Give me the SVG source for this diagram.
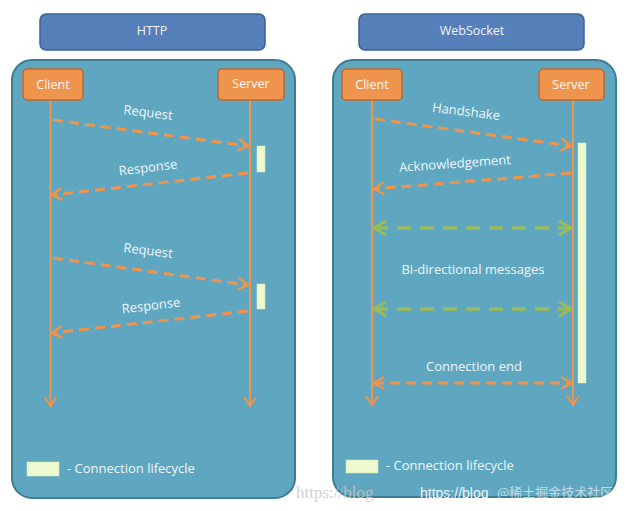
<svg xmlns="http://www.w3.org/2000/svg" width="628" height="511" viewBox="0 0 628 511">
<style>
.title{fill:#5580b9;stroke:#3c6196;stroke-width:1.5}
.panel{fill:#5fa7c1;stroke:#3d7c92;stroke-width:2}
.actor{fill:#ef944d;stroke:#b96a30;stroke-width:1.5}
.t{font-family:"Open Sans","Liberation Sans",sans-serif;font-size:12.5px;fill:#f4f8fb;text-anchor:middle}
.tt{font-family:"Open Sans","Liberation Sans",sans-serif;font-size:12.5px;fill:#f2f4fa;text-anchor:middle}
.lbl{font-family:"Open Sans","Liberation Sans",sans-serif;font-size:13px;fill:#eef5f8;text-anchor:middle}
.leg{font-family:"Open Sans","Liberation Sans",sans-serif;font-size:13px;fill:#eef5f8}
.life{stroke:#ef944d;stroke-width:2;fill:none}
.msg{stroke:#ef944d;stroke-width:3;stroke-dasharray:10 6;fill:none}
.bi{stroke:#9bbb59;stroke-width:3.5;stroke-dasharray:14 9;fill:none}
.bar{fill:#eef9cf;stroke:#d8ebb0;stroke-width:0.5}
</style>
<defs>
<marker id="ao" markerUnits="userSpaceOnUse" markerWidth="16" markerHeight="16" refX="12" refY="8" orient="auto-start-reverse"><path d="M2,2 L12,8 L2,14" fill="none" stroke="#ef944d" stroke-width="2.5"/></marker>
<marker id="al" markerUnits="userSpaceOnUse" markerWidth="16" markerHeight="16" refX="12" refY="8" orient="auto"><path d="M3,2 L12,8 L3,14" fill="none" stroke="#ef944d" stroke-width="2"/></marker>
<marker id="ag" markerUnits="userSpaceOnUse" markerWidth="18" markerHeight="18" refX="14" refY="9" orient="auto-start-reverse"><path d="M2,2 L14,9 L2,16" fill="none" stroke="#9bbb59" stroke-width="3"/></marker>
<linearGradient id="barg" x1="0" y1="0" x2="1" y2="0"><stop offset="0" stop-color="#fbfde8"/><stop offset="1" stop-color="#dff0b8"/></linearGradient>
</defs>

<g id="http-title"><rect class="title" x="40" y="14" width="225" height="36" rx="6"/><text class="tt" x="152" y="35">HTTP</text></g>
<g id="ws-title"><rect class="title" x="359" y="14" width="225" height="36" rx="6"/><text class="tt" x="472" y="35">WebSocket</text></g>

<g id="http-panel"><rect class="panel" x="12" y="60" width="283" height="438" rx="20"/></g>
<g id="ws-panel"><rect class="panel" x="333" y="60" width="283" height="437" rx="20"/></g>

<g id="connectors">
<line class="life" x1="50.5" y1="100" x2="50.5" y2="406" marker-end="url(#al)"/>
<line class="life" x1="250" y1="100" x2="250" y2="406" marker-end="url(#al)"/>
<line class="life" x1="372" y1="100" x2="372" y2="405" marker-end="url(#al)"/>
<line class="life" x1="573" y1="100" x2="573" y2="405" marker-end="url(#al)"/>
<line class="msg" x1="53" y1="120" x2="248" y2="146" marker-end="url(#ao)"/>
<line class="msg" x1="248" y1="173" x2="52" y2="195" marker-end="url(#ao)"/>
<line class="msg" x1="53" y1="258" x2="248" y2="285" marker-end="url(#ao)"/>
<line class="msg" x1="248" y1="311" x2="52" y2="333" marker-end="url(#ao)"/>
<line class="msg" x1="375" y1="119" x2="571" y2="146" marker-end="url(#ao)"/>
<line class="msg" x1="571" y1="173" x2="374" y2="189" marker-end="url(#ao)"/>
<line class="bi" x1="374" y1="228" x2="571" y2="228" marker-start="url(#ag)" marker-end="url(#ag)"/>
<line class="bi" x1="374" y1="309" x2="571" y2="309" marker-start="url(#ag)" marker-end="url(#ag)"/>
<line class="msg" x1="374" y1="383" x2="571" y2="383" stroke-width="2.5" marker-start="url(#ao)" marker-end="url(#ao)"/>
</g>

<g id="http-client"><rect class="actor" x="23" y="69" width="60" height="31" rx="4"/><text class="t" x="53" y="89">Client</text></g>
<g id="http-server"><rect class="actor" x="218" y="69" width="66" height="31" rx="4"/><text class="t" x="251" y="88">Server</text></g>
<g id="ws-client"><rect class="actor" x="342" y="69" width="60" height="31" rx="4"/><text class="t" x="372" y="89">Client</text></g>
<g id="ws-server"><rect class="actor" x="539" y="69" width="65" height="31" rx="4"/><text class="t" x="571" y="89">Server</text></g>

<g id="bars">
<rect class="bar" fill="url(#barg)" x="257" y="146" width="8" height="26"/>
<rect class="bar" fill="url(#barg)" x="257" y="284" width="8" height="25"/>
<rect class="bar" fill="url(#barg)" x="578" y="143" width="8" height="240"/>
</g>

<g id="labels">
<text class="lbl" x="148" y="117" transform="rotate(7 148 113)">Request</text>
<text class="lbl" x="148" y="172" transform="rotate(-7 148 168)">Response</text>
<text class="lbl" x="148" y="255" transform="rotate(7 148 251)">Request</text>
<text class="lbl" x="151" y="310" transform="rotate(-7 151 306)">Response</text>
<text class="lbl" x="466" y="116" transform="rotate(7 466 112)">Handshake</text>
<text class="lbl" x="455" y="168" transform="rotate(-4 455 164)">Acknowledgement</text>
<text class="lbl" x="473" y="274">Bi-directional messages</text>
<text class="lbl" x="474" y="371">Connection end</text>
</g>

<g id="legend-http"><rect class="bar" fill="url(#barg)" x="27" y="462" width="32" height="14"/><text class="leg" x="67" y="473">- Connection lifecycle</text></g>
<g id="legend-ws"><rect class="bar" fill="url(#barg)" x="346" y="460" width="32" height="13"/><text class="leg" x="386" y="470">- Connection lifecycle</text></g>

<g id="watermark">
<text x="296" y="498" font-family="Liberation Serif,serif" font-size="17" fill="#c8c8c8" opacity="0.8">https://blog</text>
<text x="420" y="498" font-family="Liberation Sans,sans-serif" font-size="14" fill="#ffffff" opacity="0.9">https://blog</text>
<text x="497" y="497" font-family="Noto Sans CJK SC,sans-serif" font-size="13" fill="#ffffff" opacity="0.6">@稀土掘金技术社区</text>
</g>
</svg>
